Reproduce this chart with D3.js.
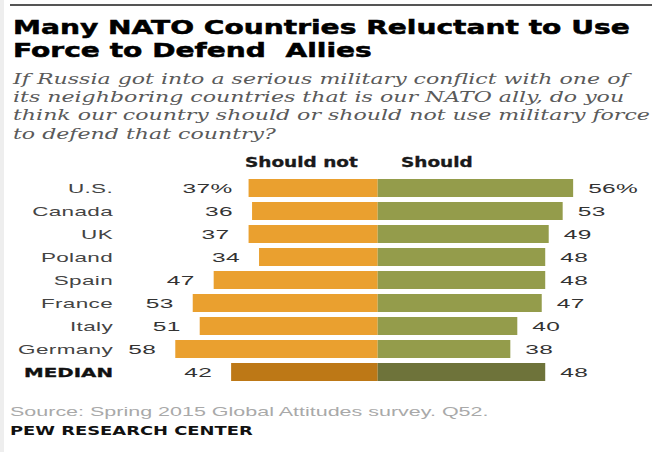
<!DOCTYPE html>
<html><head><meta charset="utf-8">
<script src="https://cdn.jsdelivr.net/npm/d3@7"></script>
<style>body{margin:0;background:#fff} text{white-space:pre}</style></head>
<body>
<svg id="c" width="654" height="452"></svg>
<script>
const countries = ["U.S.","Canada","UK","Poland","Spain","France","Italy","Germany","MEDIAN"];
const shouldNot = [37,36,37,34,47,53,51,58,42];
const should = [56,53,49,48,48,47,40,38,48];
const seriesNames = ["Should not","Should"];
const titleLines = ["Many NATO Countries Reluctant to Use","Force to Defend  Allies"];
const subtitleLines = [
  "If Russia got into a serious military conflict with one of",
  "its neighboring countries that is our NATO ally, do you",
  "think our country should or should not use military force",
  "to defend that country?"
];
const sourceText = "Source: Spring 2015 Global Attitudes survey. Q52.";
const creditText = "PEW RESEARCH CENTER";

const svg = d3.select("#c");
const SANS = "'Liberation Sans', Arial, sans-serif";
const HEAVY = "'DejaVu Sans', 'Liberation Sans', sans-serif";
const SERIF = "'DejaVu Serif', Georgia, serif";

// frame
svg.append("rect").attr("x",0).attr("y",0).attr("width",4).attr("height",452).attr("fill","#eeeeee");
svg.append("line").attr("x1",10).attr("x2",652).attr("y1",5).attr("y2",5).attr("stroke","#555").attr("stroke-width",2);

function natural(str, font, size, weight, style, ls){
  const t = svg.append("text").attr("font-family",font).attr("font-size",size)
    .attr("font-weight",weight||"normal").attr("font-style",style||"normal")
    .attr("letter-spacing",ls||0).text(str);
  const w = t.node().getComputedTextLength(); t.remove(); return w;
}
function stext(str, x, y, sx, o){
  const t = svg.append("text")
    .attr("transform",`translate(${x},${y}) scale(${sx},1)`)
    .attr("font-family",o.font).attr("font-size",o.size)
    .attr("font-weight",o.weight||"normal").attr("font-style",o.style||"normal")
    .attr("letter-spacing",o.ls||0)
    .attr("text-anchor",o.anchor||"start").attr("fill",o.fill||"#000").text(str);
  if(o.stroke) t.attr("stroke",o.fill).attr("stroke-width",o.stroke);
  return t;
}

// title
const tOpt = {font:HEAVY,size:20,weight:"bold",fill:"#000",stroke:0.5};
const tsx = 617/natural(titleLines[0],HEAVY,20,"bold");
titleLines.forEach((l,i)=>stext(l,13,34+i*23,tsx,tOpt));

// subtitle
const sOpt = {font:SERIF,size:14.5,style:"italic",fill:"#5a5a5a"};
const ssx = 616/natural(subtitleLines[0],SERIF,14.5,"normal","italic");
subtitleLines.forEach((l,i)=>stext(l,13,84+i*18.2,ssx,sOpt));

// scales
const cx = 377.7;
const x = d3.scaleLinear().domain([0,60]).range([0,209.4]);
const y = d3.scaleBand().domain(countries).range([176.5,176.5+23*9]).paddingInner(5/23).paddingOuter(2.5/23);

const data = countries.map((c,i)=>({c, n:shouldNot[i], s:should[i], med:c==="MEDIAN"}));
const colors = {n:"#eaa02f", s:"#949c4b", nm:"#bd7816", sm:"#6e733a"};

// headers
const hOpt = {font:HEAVY,size:14,weight:"bold",fill:"#1a1a1a",stroke:0.3};
const hsx = 113/natural(seriesNames[0],HEAVY,14,"bold");
stext(seriesNames[0],245,167,hsx,hOpt);
stext(seriesNames[1],401,167,hsx,hOpt);

// bars
const g = svg.append("g");
g.selectAll("rect.n").data(data).join("rect").attr("class","n")
  .attr("x",d=>cx - x(d.n)).attr("width",d=>x(d.n))
  .attr("y",d=>y(d.c)).attr("height",y.bandwidth())
  .attr("fill",d=>d.med?colors.nm:colors.n);
g.selectAll("rect.s").data(data).join("rect").attr("class","s")
  .attr("x",cx).attr("width",d=>x(d.s))
  .attr("y",d=>y(d.c)).attr("height",y.bandwidth())
  .attr("fill",d=>d.med?colors.sm:colors.s);

// labels
const lOpt = {font:SANS,size:13,fill:"#444",ls:0.2};
const lsx = 95/natural("Germany",SANS,13,"normal","normal",0.2);
const vsx = 28/natural("53",SANS,13,"normal","normal",0.2);
const mOpt = {font:HEAVY,size:12.5,weight:"bold",fill:"#111",anchor:"end",stroke:0.3};
const msx = 89/natural("MEDIAN",HEAVY,12.5,"bold");
data.forEach((d,i)=>{
  const yc = y(d.c)+y.bandwidth()/2+4.7;
  if(d.med) stext(d.c,113,yc,msx,mOpt);
  else stext(d.c,113,yc,lsx,Object.assign({},lOpt,{anchor:"end"}));
  const pct = i===0?"%":"";
  stext(d.n+pct, cx - x(d.n) - (i===0?16:19), yc, vsx, Object.assign({},lOpt,{anchor:"end",fill:"#333"}));
  stext(d.s+pct, cx + x(d.s) + 15, yc, vsx, Object.assign({},lOpt,{fill:"#333"}));
});

// source & credit
const srcOpt = {font:SANS,size:13,fill:"#a9a9a9"};
stext(sourceText,10,416,479/natural(sourceText,SANS,13),srcOpt);
const crOpt = {font:HEAVY,size:12,weight:"bold",fill:"#111"};
stext(creditText,10,435,243/natural(creditText,HEAVY,12,"bold"),crOpt);
</script>
</body></html>
